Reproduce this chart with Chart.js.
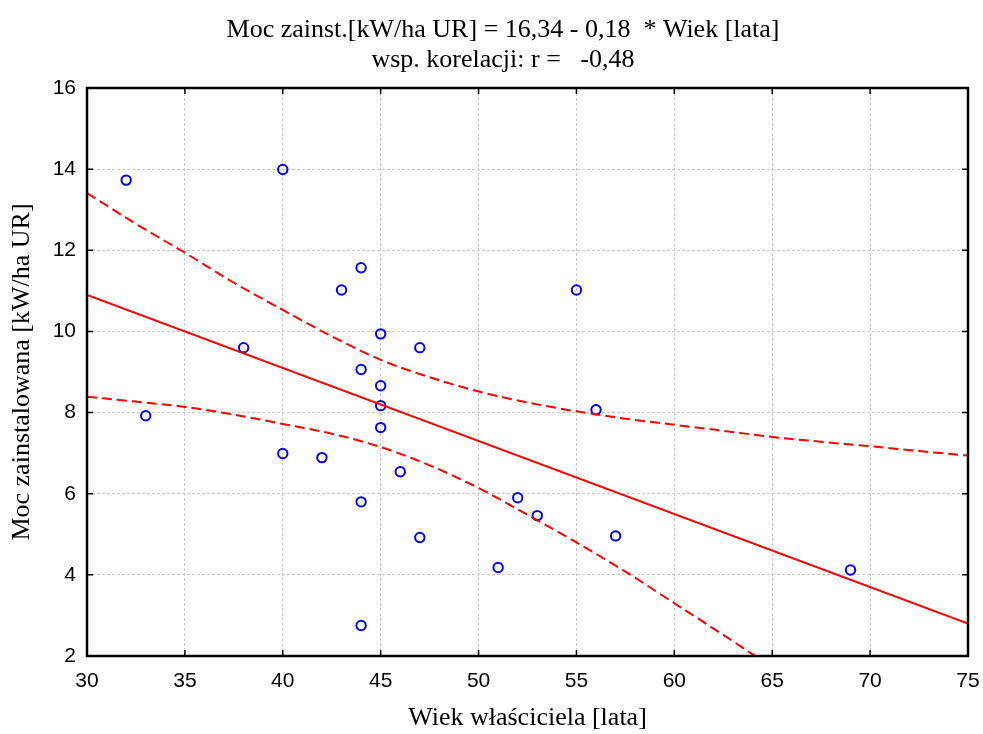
<!DOCTYPE html>
<html><head><meta charset="utf-8">
<script src="https://cdn.jsdelivr.net/npm/chart.js@4"></script>
<style>html,body{margin:0;padding:0;background:#fff}#wrap{width:983px;height:734px}</style>
</head><body><div id="wrap"><canvas id="c" width="983" height="734"></canvas></div>
<script>
const ages = [32,40,33,38,40,42,43,44,44,44,44,45,45,45,45,46,47,47,51,52,53,55,56,57,69];
const power = [13.73,13.99,7.92,9.60,6.99,6.89,11.02,11.57,9.06,5.80,2.75,9.94,8.66,8.17,7.63,6.54,9.60,4.92,4.18,5.90,5.46,11.02,8.07,4.96,4.12];
const fitX = [30,75];
const fitY = [10.90,2.80];
const bandX = [30,32.5,35,37.5,40,42.5,45,47.5,50,52.5,55,57.5,60,62.5,65,67.5,70,72.5,75];
const upperY = [13.41,12.65,11.94,11.20,10.53,9.88,9.30,8.87,8.52,8.25,8.03,7.85,7.70,7.55,7.40,7.28,7.17,7.05,6.94];
const lowerY = [8.39,8.27,8.14,7.95,7.72,7.48,7.15,6.70,6.14,5.48,4.80,4.08,3.30,2.52,1.72];
const xTicks = [30,35,40,45,50,55,60,65,70,75];
const yTicks = [2,4,6,8,10,12,14,16];
const titleLines = ['Moc zainst.[kW/ha UR] = 16,34 - 0,18  * Wiek [lata]','wsp. korelacji: r =   -0,48'];
const xTitle = 'Wiek właściciela [lata]';
const yTitle = 'Moc zainstalowana [kW/ha UR]';

const pts = (xs, ys) => xs.map((x,i)=>({x, y: ys[i]})).filter(p=>p.y!==undefined);
const tickFont = {family:"'Liberation Sans',Arial,sans-serif", size:21};

const decor = {
  id:'decor',
  beforeDatasetsDraw(chart){
    const {ctx, chartArea:a, scales:{x,y}} = chart;
    ctx.save();
    ctx.strokeStyle='#000'; ctx.lineWidth=1.5;
    xTicks.forEach(v=>{const px=x.getPixelForValue(v);
      ctx.beginPath();ctx.moveTo(px,a.bottom);ctx.lineTo(px,a.bottom-6);ctx.moveTo(px,a.top);ctx.lineTo(px,a.top+6);ctx.stroke();});
    yTicks.forEach(v=>{const py=y.getPixelForValue(v);
      ctx.beginPath();ctx.moveTo(a.left,py);ctx.lineTo(a.left+6,py);ctx.moveTo(a.right,py);ctx.lineTo(a.right-6,py);ctx.stroke();});
    ctx.restore();
  },
  afterDraw(chart){
    const {ctx, chartArea:a} = chart;
    ctx.save();
    ctx.strokeStyle='#000'; ctx.lineWidth=2.5;
    ctx.strokeRect(a.left,a.top,a.right-a.left,a.bottom-a.top);
    ctx.fillStyle='#000';
    ctx.font="26px 'Liberation Serif','Times New Roman',serif";
    ctx.textAlign='center'; ctx.textBaseline='middle';
    ctx.fillText(titleLines[0],503,30);
    ctx.fillText(titleLines[1],503,60);
    ctx.fillText(xTitle,(a.left+a.right)/2,718);
    ctx.translate(22,(a.top+a.bottom)/2);
    ctx.rotate(-Math.PI/2);
    ctx.fillText(yTitle,0,0);
    ctx.restore();
  }
};

new Chart(document.getElementById('c'),{
  type:'scatter',
  data:{datasets:[
    {data:pts(bandX,upperY),showLine:true,borderColor:'#ff0000',borderWidth:2,borderDash:[10,5],pointRadius:0,cubicInterpolationMode:'monotone',fill:false},
    {data:pts(bandX,lowerY),showLine:true,borderColor:'#ff0000',borderWidth:2,borderDash:[10,5],pointRadius:0,cubicInterpolationMode:'monotone',fill:false},
    {data:pts(fitX,fitY),showLine:true,borderColor:'#ff0000',borderWidth:2,pointRadius:0,fill:false},
    {data:pts(ages,power),showLine:false,pointRadius:4.7,pointBorderWidth:2,pointBorderColor:'#0000ff',pointBackgroundColor:'rgba(0,0,0,0)',pointStyle:'circle'}
  ]},
  options:{
    responsive:false,animation:false,
    layout:{padding:{top:88,right:15,left:0,bottom:0}},
    plugins:{legend:{display:false},tooltip:{enabled:false},title:{display:false}},
    scales:{
      x:{type:'linear',min:30,max:75,
        afterBuildTicks(s){s.ticks=xTicks.map(v=>({value:v}));},
        afterFit(s){s.height=78;s.paddingLeft=0;s.paddingRight=0;},
        border:{display:false,dash:[3,2]},
        grid:{color:'#cccccc',lineWidth:1,drawTicks:false},
        ticks:{padding:13,color:'#000',font:tickFont,maxRotation:0,autoSkip:false}},
      y:{type:'linear',min:2,max:16,
        afterBuildTicks(s){s.ticks=yTicks.map(v=>({value:v}));},
        afterFit(s){s.width=87;s.paddingTop=0;s.paddingBottom=0;},
        border:{display:false,dash:[3,2]},
        grid:{color:'#cccccc',lineWidth:1,drawTicks:false},
        ticks:{padding:11,color:'#000',font:tickFont,autoSkip:false}}
    }
  },
  plugins:[decor]
});
</script></body></html>
